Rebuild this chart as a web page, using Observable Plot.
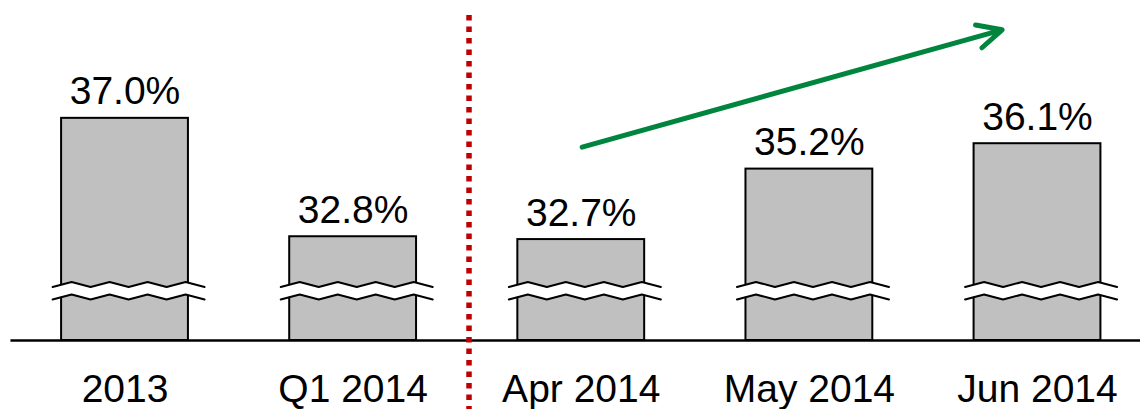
<!DOCTYPE html>
<html>
<head>
<meta charset="utf-8">
<script src="https://cdn.jsdelivr.net/npm/d3@7"></script>
<script src="https://cdn.jsdelivr.net/npm/@observablehq/plot@0.6"></script>
<style>
  html, body { margin: 0; padding: 0; background: #fff; }
  #chart svg { display: block; }
</style>
</head>
<body>
<div id="chart"></div>
<script>
// ---- data ----
const categories = ["2013", "Q1 2014", "Apr 2014", "May 2014", "Jun 2014"];
const values = [37.0, 32.8, 32.7, 35.2, 36.1];
const valueLabels = ["37.0%", "32.8%", "32.7%", "35.2%", "36.1%"];
// trend arrow, in [index, value]
const arrowStart = [2.004, 35.98];
const arrowEnd = [3.845, 40.14];
const separatorAt = 1.508;

// ---- layout ----
const W = 1140, H = 409;
const yMin = 29.12, yMax = 41.18;
const plotBottomPx = 340;
const xMin = -0.5458, xMax = 4.4515;
const halfBar = 0.278;

const data = categories.map((c, i) => ({i, category: c, value: values[i], label: valueLabels[i]}));

// helpers to express decoration sizes given in pixels in data units
const pxPerX = W / (xMax - xMin);
const pxPerY = plotBottomPx / (yMax - yMin);
const vAtPx = py => yMax - py / pxPerY;
const dx = px => px / pxPerX;

// axis break zigzag
const breakPts = [];
data.forEach(d => {
  const x0 = d.i - halfBar - dx(9);
  for (let k = 0; k <= 8; k++) {
    const odd = k % 2 === 1;
    breakPts.push({
      bar: d.i,
      x: x0 + k * dx(19),
      upper: vAtPx(odd ? 281.5 : 286.5),
      lower: vAtPx(odd ? 294.0 : 299.0)
    });
  }
});

const font = "'Liberation Sans', Arial, Helvetica, sans-serif";
const arrowWidth = 5;

const chart = Plot.plot({
  width: W,
  height: H,
  marginTop: 0,
  marginBottom: H - plotBottomPx,
  marginLeft: 0,
  marginRight: 0,
  style: {fontFamily: font, background: "#fff", overflow: "visible"},
  x: {type: "linear", domain: [xMin, xMax], axis: null},
  y: {domain: [yMin, yMax], axis: null},
  marks: [
    Plot.rectY(data, {
      x1: d => d.i - halfBar, x2: d => d.i + halfBar,
      y1: yMin, y2: "value",
      fill: "#C0C0C0", stroke: "#000", strokeWidth: 2
    }),
    Plot.areaY(breakPts, {x: "x", y1: "lower", y2: "upper", z: "bar", fill: "#fff", curve: "linear"}),
    Plot.line(breakPts, {x: "x", y: "upper", z: "bar", stroke: "#000", strokeWidth: 2}),
    Plot.line(breakPts, {x: "x", y: "lower", z: "bar", stroke: "#000", strokeWidth: 2}),
    Plot.ruleY([yMin], {x1: -0.5, x2: xMax, stroke: "#000", strokeWidth: 2.5}),
    Plot.ruleX([separatorAt], {
      y1: vAtPx(15), y2: vAtPx(409),
      stroke: "#C00000", strokeWidth: 5.5, strokeDasharray: "5.5,6"
    }),
    Plot.text(data, {
      x: "i", y: "value", text: "label",
      dy: -14, lineAnchor: "bottom", fontSize: 39, fill: "#000"
    }),
    Plot.text(data, {
      x: "i", y: yMin, text: "category",
      dy: 61, lineAnchor: "bottom", fontSize: 39, fill: "#000"
    }),
    Plot.arrow([{x1: arrowStart[0], y1: arrowStart[1], x2: arrowEnd[0], y2: arrowEnd[1]}], {
      x1: "x1", y1: "y1", x2: "x2", y2: "y2",
      stroke: "#00853F", strokeWidth: arrowWidth,
      headLength: 27 * 1.5 / arrowWidth, headAngle: 52, bend: 0
    })
  ]
});
document.getElementById("chart").appendChild(chart);
</script>
</body>
</html>
